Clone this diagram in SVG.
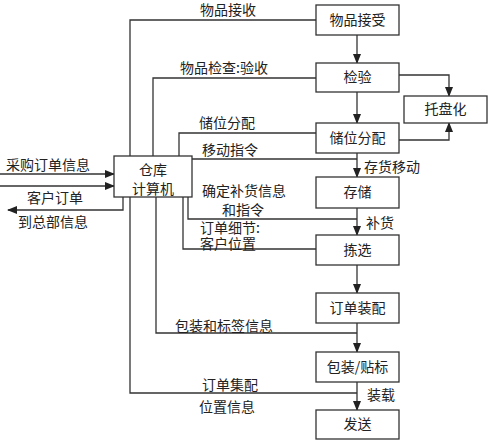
<svg xmlns="http://www.w3.org/2000/svg" width="488" height="440" viewBox="0 0 488 440">
<style>
.ln{fill:none;stroke:#333;stroke-width:1.3}
.bx{fill:#fff;stroke:#333;stroke-width:1.3}
text{font-family:"Noto Sans CJK SC","Noto Sans",sans-serif;font-size:14px;fill:#222}
.c{text-anchor:middle}
</style>
<defs>
<marker id="ah" markerWidth="10" markerHeight="8" refX="9" refY="4" orient="auto" markerUnits="userSpaceOnUse">
<path d="M0,0 L10,4 L0,8 Z" fill="#222"/>
</marker>
</defs>
<g id="connectors">
<path class="ln" d="M357,35 V63" marker-end="url(#ah)"/>
<path class="ln" d="M357,92 V123" marker-end="url(#ah)"/>
<path class="ln" d="M357,153 V177" marker-end="url(#ah)"/>
<path class="ln" d="M357,208 V235" marker-end="url(#ah)"/>
<path class="ln" d="M357,265 V293" marker-end="url(#ah)"/>
<path class="ln" d="M357,323 V352" marker-end="url(#ah)"/>
<path class="ln" d="M357,382 V410" marker-end="url(#ah)"/>
<path class="ln" d="M399,75 H449 V96" marker-end="url(#ah)"/>
<path class="ln" d="M399,140 H449 V123" marker-end="url(#ah)"/>
<path class="ln" d="M316,20 H130 V393 H357"/>
<path class="ln" d="M316,78 H153 V156"/>
<path class="ln" d="M316,133 H179 V156"/>
<path class="ln" d="M192,159 H357"/>
<path class="ln" d="M188,197 V219 H357"/>
<path class="ln" d="M183,197 V249 H316"/>
<path class="ln" d="M156,197 V333 H357"/>
<path class="ln" d="M0,174 H114" marker-end="url(#ah)"/>
<path class="ln" d="M0,186 H114" marker-end="url(#ah)"/>
<path class="ln" d="M123,197 V210 H8" marker-end="url(#ah)"/>
</g>
<g id="n-computer"><rect class="bx" x="114" y="156" width="78" height="41"/><text class="c" x="153" y="175">仓库</text><text class="c" x="153" y="194">计算机</text></g>
<g id="n-receive"><rect class="bx" x="316" y="5" width="83" height="30"/><text class="c" x="357.5" y="25">物品接受</text></g>
<g id="n-inspect"><rect class="bx" x="316" y="63" width="83" height="29"/><text class="c" x="357.5" y="82">检验</text></g>
<g id="n-pallet"><rect class="bx" x="404" y="96" width="83" height="27"/><text class="c" x="445.5" y="114">托盘化</text></g>
<g id="n-slot"><rect class="bx" x="316" y="123" width="83" height="30"/><text class="c" x="357.5" y="143">储位分配</text></g>
<g id="n-store"><rect class="bx" x="316" y="177" width="83" height="31"/><text class="c" x="357.5" y="197">存储</text></g>
<g id="n-pick"><rect class="bx" x="316" y="235" width="83" height="30"/><text class="c" x="357.5" y="255">拣选</text></g>
<g id="n-assemble"><rect class="bx" x="316" y="293" width="83" height="30"/><text class="c" x="357.5" y="313">订单装配</text></g>
<g id="n-pack"><rect class="bx" x="316" y="352" width="83" height="30"/><text class="c" x="357.5" y="372">包装/贴标</text></g>
<g id="n-ship"><rect class="bx" x="316" y="410" width="83" height="29"/><text class="c" x="357.5" y="429">发送</text></g>
<g id="labels">
<text x="200" y="15">物品接收</text>
<text x="180" y="73">物品检查:验收</text>
<text x="199" y="128">储位分配</text>
<text x="202" y="155">移动指令</text>
<text x="364" y="172">存货移动</text>
<text x="202" y="196">确定补货信息</text>
<text x="222" y="215">和指令</text>
<text x="366" y="228">补货</text>
<text x="200" y="233">订单细节:</text>
<text x="200" y="249">客户位置</text>
<text x="6" y="170">采购订单信息</text>
<text x="27" y="203">客户订单</text>
<text x="18" y="227">到总部信息</text>
<text x="175" y="331">包装和标签信息</text>
<text x="202" y="390">订单集配</text>
<text x="199" y="412">位置信息</text>
<text x="367" y="400">装载</text>
</g>
</svg>
